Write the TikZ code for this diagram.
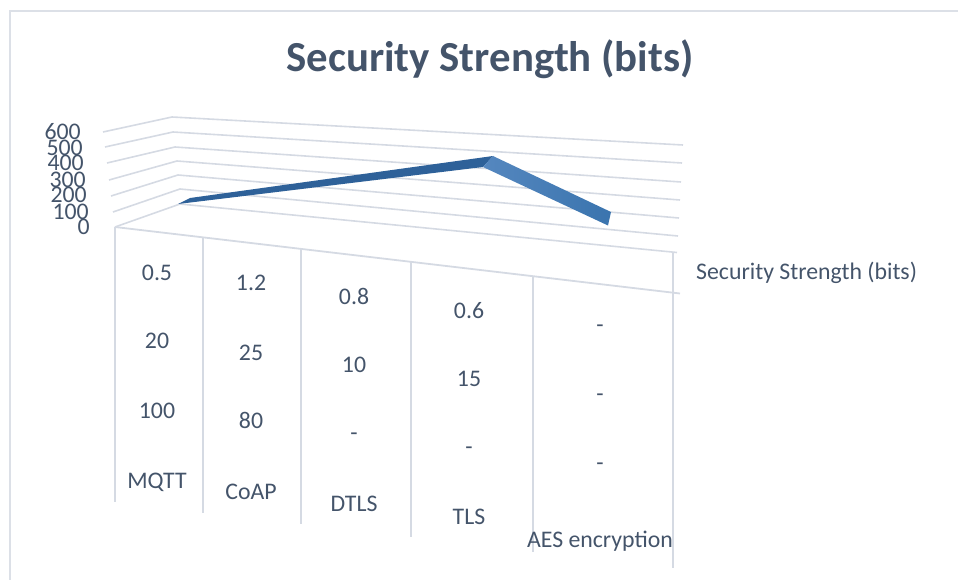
\documentclass[tikz,border=0pt]{standalone}
\usepackage{fontspec}
\setmainfont{Carlito}
\definecolor{txt}{HTML}{44546A}
\definecolor{gridc}{HTML}{D5DAE3}
\definecolor{framec}{HTML}{DCE0E7}
\definecolor{ribL}{HTML}{2E6199}
\definecolor{ribA}{HTML}{5587BF}
\definecolor{ribB}{HTML}{3A74AE}
\begin{document}
\begin{tikzpicture}[x=1pt,y=-1pt,
  lbl/.style={text=txt,font=\fontsize{23.8}{27}\selectfont,inner sep=0pt,anchor=base},
  ylbl/.style={lbl,anchor=base east},
  ttl/.style={text=txt,font=\fontsize{42.8}{50}\selectfont\bfseries,inner sep=0pt,anchor=base},
  gridline/.style={draw=gridc,line width=1.6pt,line join=round},
  tblline/.style={draw=gridc,line width=1.8pt},
  frameline/.style={draw=framec,line width=2pt}]
\useasboundingbox (0,0) rectangle (958,580);
% outer frame
\draw[frameline] (9.5,600) -- (9.5,10.8) -- (970,10.8);
% title
\node[ttl] (title) at (490,72) {Security Strength (bits)};
% gridlines (left wall + back wall)
\draw[gridline] (103,132) -- (172,117) -- (683,145);
\draw[gridline] (105,147) -- (173,132) -- (682,163);
\draw[gridline] (107,163) -- (175,147) -- (681,182);
\draw[gridline] (109,180) -- (177,161) -- (680,200);
\draw[gridline] (111,196) -- (178,175) -- (679,218);
\draw[gridline] (113,212) -- (180,189) -- (678,236);
% floor
\coordinate (fl) at (115,227);
\coordinate (bl) at (180,204);
\coordinate (br) at (677,252.5);
\coordinate (fr) at (680,293.5);
\draw[gridline] (fl) -- (bl) -- (br);
\draw[tblline] (fl) -- (fr);
% table verticals
\draw[tblline] (115,227) -- (115,502);
\draw[tblline] (203,237.5) -- (203,513);
\draw[tblline] (301,249) -- (301,524);
\draw[tblline] (411,262) -- (411,537);
\draw[tblline] (533,276.5) -- (533,552);
\draw[tblline] (673,252) -- (673,568);
% y-axis labels
\node[ylbl] (y600) at (81,140) {600};
\node[ylbl] (y500) at (83,156) {500};
\node[ylbl] (y400) at (84,171) {400};
\node[ylbl] (y300) at (86,188) {300};
\node[ylbl] (y200) at (87,203) {200};
\node[ylbl] (y100) at (89,219) {100};
\node[ylbl] (y0) at (90,234) {0};
% ribbon
\fill[ribL] (178,204) -- (190,198) -- (493,156) -- (483,167) -- cycle;
\shade[left color=ribA,right color=ribB] (493,156) -- (611,212) -- (608,225.5) -- (483,167) -- cycle;
% legend
\node[lbl,anchor=base west] (legend) at (696,279) {Security Strength (bits)};
% table texts
\node[lbl] (a1) at (157,280) {0.5};
\node[lbl] (a2) at (157,348) {20};
\node[lbl] (a3) at (157,418) {100};
\node[lbl] (a4) at (157,488) {MQTT};
\node[lbl] (b1) at (251,290) {1.2};
\node[lbl] (b2) at (251,360) {25};
\node[lbl] (b3) at (251,428) {80};
\node[lbl] (b4) at (251,499) {CoAP};
\node[lbl] (c1) at (354,304) {0.8};
\node[lbl] (c2) at (354,372) {10};
\node[lbl] (c3) at (354,440) {-};
\node[lbl] (c4) at (354,511) {DTLS};
\node[lbl] (d1) at (469,318) {0.6};
\node[lbl] (d2) at (469,386) {15};
\node[lbl] (d3) at (469,454) {-};
\node[lbl] (d4) at (469,524) {TLS};
\node[lbl] (e1) at (600,332) {-};
\node[lbl] (e2) at (600,401) {-};
\node[lbl] (e3) at (600,470) {-};
\node[lbl] (e4) at (600,547) {AES encryption};
\end{tikzpicture}
\end{document}
